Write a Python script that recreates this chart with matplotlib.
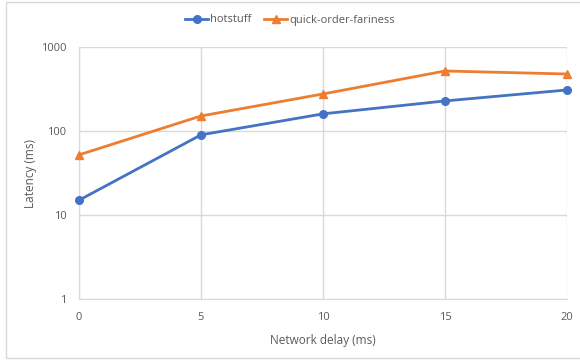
import matplotlib
matplotlib.use("Agg")
import matplotlib.pyplot as plt
from matplotlib.patches import Rectangle

# Latency vs. network delay -------------------------
delay_ms = [0, 5, 10, 15, 20]
hotstuff = [15, 90, 160, 228, 308]
quick_order_fairness = [52, 151, 276, 518, 477]

x_ticks = [0, 5, 10, 15, 20]
y_ticks = [1, 10, 100, 1000]

TEXT = "#595959"
GRID = "#d9d9d9"

plt.rcParams["font.family"] = ["Open Sans", "DejaVu Sans"]

fig = plt.figure(figsize=(5.8, 3.6), dpi=100)
ax = fig.add_axes([79 / 580, 61 / 360, 488 / 580, 252 / 360])

ax.plot(delay_ms, hotstuff, color="#4472C4", lw=2, marker="o", ms=5.5,
        label="hotstuff", clip_on=False, zorder=3)
ax.plot(delay_ms, quick_order_fairness, color="#ED7D31", lw=2, marker="^", ms=5.5,
        label="quick-order-fariness", clip_on=False, zorder=3)

ax.set_yscale("log")
ax.set_xlim(0, 20)
ax.set_ylim(1, 1000)
ax.set_xticks(x_ticks)
ax.set_xticklabels([str(v) for v in x_ticks])
ax.set_yticks(y_ticks)
ax.set_yticklabels([str(v) for v in y_ticks])
ax.minorticks_off()

ax.grid(True, color=GRID, lw=1)
ax.set_axisbelow(True)
for side in ["top", "right"]:
    ax.spines[side].set_visible(False)
for side in ["left", "bottom"]:
    ax.spines[side].set_color(GRID)
ax.tick_params(length=0, colors=TEXT, labelsize=8, pad=9)

ax.set_xlabel("Network delay (ms)", color=TEXT, fontsize=8.5, labelpad=8)
ax.set_ylabel("Latency (ms)", color=TEXT, fontsize=8.5, labelpad=3)

fig.legend(loc="center", bbox_to_anchor=(0.5, 1 - 20 / 360), ncol=2,
           frameon=False, fontsize=8, labelcolor=TEXT, handlelength=2.0,
           columnspacing=1.2, handletextpad=0.2)

# chart border
fig.patches.append(Rectangle((6 / 580, 2 / 360), 1.1, 356 / 360,
                             transform=fig.transFigure, fill=False,
                             edgecolor="#d9d9d9", lw=1))

fig.savefig("out.png", dpi=100)
